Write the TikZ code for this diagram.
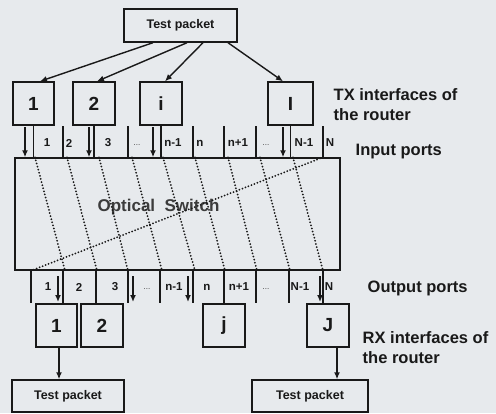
\documentclass[tikz,border=0pt]{standalone}
\usepackage{fontspec}
\setmainfont{Liberation Sans}
\usetikzlibrary{arrows.meta}
\definecolor{bg}{RGB}{231,234,237}
\definecolor{ink}{RGB}{25,25,25}
\definecolor{soft}{RGB}{60,60,60}
\begin{document}
\begin{tikzpicture}[x=1pt,y=-1pt,line width=1.4pt,color=ink,
  numbox/.style={draw=ink,line width=1.4pt,inner sep=0pt,minimum height=43pt,
    text=ink,font=\bfseries\fontsize{19}{19}\selectfont},
  pktbox/.style={draw=ink,line width=1.4pt,inner sep=0pt,minimum height=33pt,
    text=ink,font=\bfseries\fontsize{12.5}{13}\selectfont},
  swbox/.style={draw=ink,line width=1.4pt,inner sep=0pt},
  portlbl/.style={text=ink,inner sep=0pt,font=\bfseries\fontsize{11.5}{11.5}\selectfont},
  dotslbl/.style={text=soft,inner sep=0pt,font=\fontsize{8}{8}\selectfont},
  sidelbl/.style={text=ink,inner sep=0pt,anchor=west,align=left,
    font=\bfseries\fontsize{16.5}{20}\selectfont},
  arr/.style={-{Latex[length=7pt,width=6pt]}},
  route/.style={draw=ink,line width=2pt,line cap=round,dash pattern=on 0pt off 3.2pt}]

\fill[bg] (0,0) rectangle (496,413);
\useasboundingbox (0,0) rectangle (496,413);

% top packet and TX interfaces
\node[pktbox,minimum width=113pt] (tp) at (180.5,25.5) {Test packet};
\node[numbox,minimum width=41pt] (tx1) at (33.5,103.5) {1};
\node[numbox,minimum width=42pt] (tx2) at (94,103.5) {2};
\node[numbox,minimum width=42pt] (txi) at (161,103.5) {i};
\node[numbox,minimum width=45pt] (txI) at (290.5,103.5) {I};

\draw[arr] ([xshift=-27.5pt]tp.south) -- ([xshift=6.5pt]tx1.north);
\draw[arr] ([xshift=6.5pt]tp.south) -- ([xshift=3pt]tx2.north);
\draw[arr] ([xshift=22.5pt]tp.south) -- ([xshift=4pt]txi.north);
\draw[arr] ([xshift=47.5pt]tp.south) -- ([xshift=-7.5pt]txI.north);

% optical switch
\node[swbox,minimum width=325pt,minimum height=112pt] (sw) at (177.5,214) {};
\node[text=soft,inner sep=0pt,font=\bfseries\fontsize{17}{17}\selectfont] (swl) at (158.5,207) {Optical\ \ Switch};

% input port row
\foreach \b in {tx1,tx2,txi,txI} \draw (\b.south) -- (\b.south |- sw.north);
\foreach \x in {63,128,193,224,256,323} \draw (\x,126) -- (\x,0 |- sw.north);
\foreach \x in {25,89,153,283} \draw[arr] (\x,127) -- (\x,0 |- sw.north);
\foreach \x/\t in {47/1,69/2,108/3,173/n-1,200/n,238/n+1,304/N-1,330/N}
  \node[portlbl] at (\x,143) {\t};
\node[dotslbl] at (137,145) {...};
\node[dotslbl] at (266,145) {...};

% routes inside switch
\foreach \a/\b in {35/65,67/97,99/128,132/162,163/195,195/225,228/257,260/290,293/323}
  \draw[route] (\a,0 |- sw.north) -- (\b,0 |- sw.south);
\draw[route] (323,0 |- sw.north) -- (31,0 |- sw.south);

% RX interfaces
\node[numbox,minimum width=41pt] (rx1) at (56.5,325.5) {1};
\node[numbox,minimum width=42pt] (rx2) at (102,325.5) {2};
\node[numbox,minimum width=42pt] (rxj) at (224,325.5) {j};
\node[numbox,minimum width=42pt] (rxJ) at (328,325.5) {J};

% output port row
\foreach \x in {31,128,160,193,256,289} \draw (\x,0 |- sw.south) -- (\x,303);
\draw (63,0 |- sw.south) -- (63,0 |- rx1.north);
\draw (96,0 |- sw.south) -- (96,0 |- rx2.north);
\draw (rxj.north |- sw.south) -- (rxj.north);
\draw (323,0 |- sw.south) -- (323,0 |- rxJ.north);
\foreach \x in {58,133,188,320} \draw[arr] (\x,276) -- (\x,302);
\foreach \x/\t in {48/1,79/2,115/3,174/n-1,207/n,239/n+1,300/N-1,329/N}
  \node[portlbl] at (\x,287) {\t};
\node[dotslbl] at (147,289) {...};
\node[dotslbl] at (266,289) {...};

% bottom packets
\node[pktbox,minimum width=112pt,minimum height=32pt] (tpL) at (68,396) {Test packet};
\node[pktbox,minimum width=116pt,minimum height=32pt] (tpR) at (310,396) {Test packet};
\draw[arr] ([xshift=2.5pt]rx1.south) -- ([xshift=2.5pt]rx1.south |- tpL.north);
\draw[arr] ([xshift=9pt]rxJ.south) -- ([xshift=9pt]rxJ.south |- tpR.north);

% side labels
\node[sidelbl] (txl) at (333,105) {TX interfaces of\\the router};
\node[sidelbl] (inl) at (355,152) {Input ports};
\node[sidelbl] (outl) at (367,288) {Output ports};
\node[sidelbl] (rxl) at (362,347.5) {RX interfaces of\\the router};
\end{tikzpicture}
\end{document}
